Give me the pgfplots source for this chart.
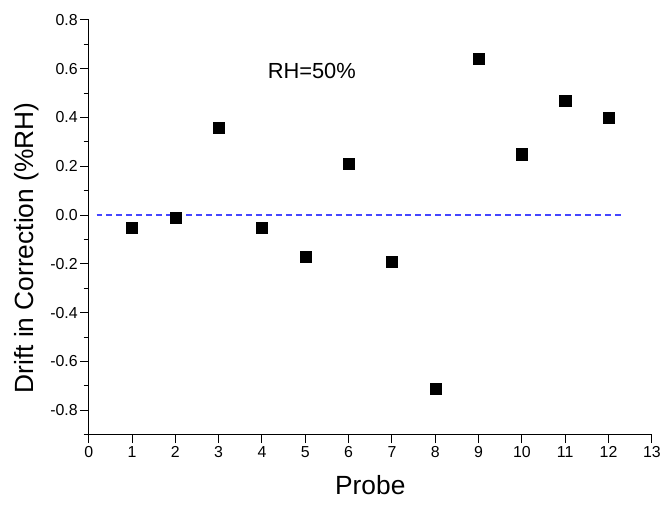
\documentclass[border=0pt]{standalone}
\usepackage{fontspec}
\setmainfont{Liberation Sans}
\usepackage{pgfplots}
\pgfplotsset{compat=1.18}
\definecolor{dashblue}{RGB}{70,70,255}
\begin{document}
\begin{tikzpicture}
\begin{axis}[
  at={(0bp,0bp)}, anchor=south west,
  scale only axis, width=565bp, height=416bp,
  xmin=0, xmax=13, ymin=-0.9, ymax=0.8,
  axis lines*=left,
  axis line style={line width=1pt},
  tick style={line width=1pt, black},
  tick align=outside,
  major tick length=8.5bp, minor tick length=5bp,
  xtick={0,1,...,13},
  ytick={-0.8,-0.6,...,0.8},
  minor ytick={-0.9,-0.7,...,0.7},
  /pgf/number format/assume math mode=true,
  /pgf/number format/.cd, fixed, fixed zerofill, precision=1, /tikz/.cd,
  xticklabel style={/pgf/number format/precision=0, /pgf/number format/fixed zerofill=false},
  tick label style={font=\fontsize{16}{18}\selectfont},
  yticklabel style={xshift=1bp},
  xlabel={Probe}, ylabel={Drift in Correction (\%RH)},
  label style={font=\fontsize{26.5}{29}\selectfont},
  xlabel style={at={(axis description cs:0.5,-0.123)}, anchor=center},
  ylabel style={at={(axis description cs:-0.110,0.45)}, anchor=center},
  clip=false,
]
\addplot[draw=dashblue, line width=1.2pt, dash pattern=on 6bp off 4bp, mark=none] coordinates {(0.18,0) (12.3,0)};
\addplot[only marks, mark=square*, mark size=5.6bp, black, mark options={line width=0.3pt}] coordinates {
(1,-0.05) (2,-0.01) (3,0.36) (4,-0.05) (5,-0.17) (6,0.21)
(7,-0.19) (8,-0.71) (9,0.64) (10,0.25) (11,0.47) (12,0.40)};
\node[font=\fontsize{22}{24}\selectfont] at (axis cs:5.15,0.59) {RH=50\%};
\end{axis}
\path (-89bp,-70bp) rectangle (575bp,436bp);
\end{tikzpicture}
\end{document}
